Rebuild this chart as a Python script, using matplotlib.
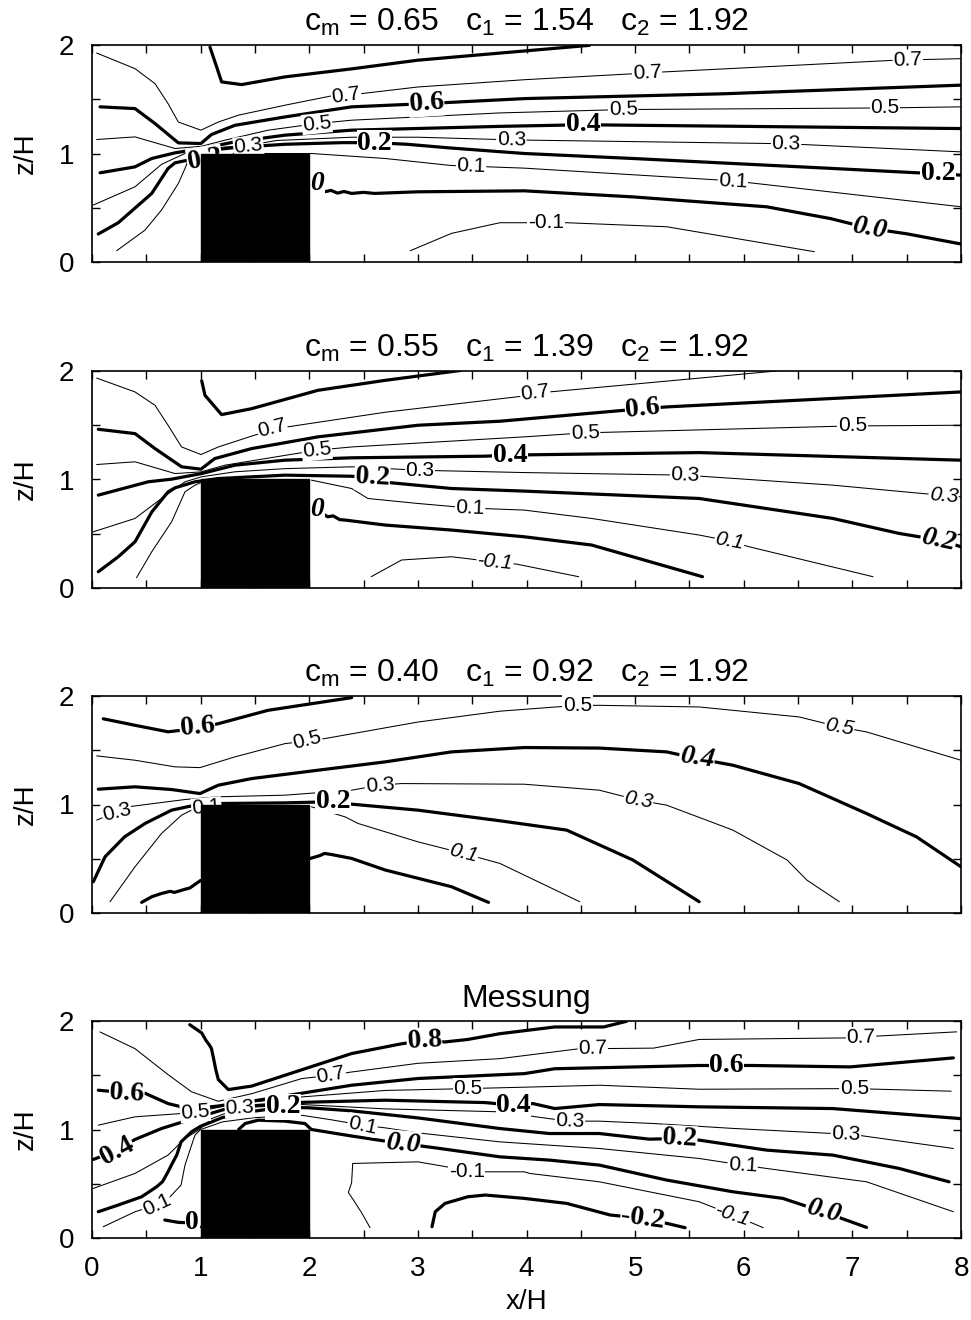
import matplotlib
matplotlib.use("Agg")
import matplotlib.pyplot as plt
from matplotlib.patches import Rectangle

plt.rcParams['font.family'] = ['Liberation Sans', 'DejaVu Sans']
plt.rcParams['mathtext.fontset'] = 'custom'
plt.rcParams['mathtext.rm'] = 'Liberation Sans'
plt.rcParams['mathtext.it'] = 'Liberation Sans'

# ---------------- data ----------------
TITLES = [r"c$_\mathrm{m}$ = 0.65   c$_\mathrm{1}$ = 1.54   c$_\mathrm{2}$ = 1.92",
          r"c$_\mathrm{m}$ = 0.55   c$_\mathrm{1}$ = 1.39   c$_\mathrm{2}$ = 1.92",
          r"c$_\mathrm{m}$ = 0.40   c$_\mathrm{1}$ = 0.92   c$_\mathrm{2}$ = 1.92",
          "Messung"]

X_TICKS = [0, 1, 2, 3, 4, 5, 6, 7, 8]
Z_TICKS = [0, 1, 2]
BUILDING_X = [1.0, 2.0]
BUILDING_Z = [0.0, 1.0]

# contour lines: (level, x/H, z/H)
P1_LINES = [
    (0.8, [1.086, 1.147, 1.193, 1.377, 1.776, 2.39, 3.0, 3.98, 4.58],
          [1.98, 1.80, 1.66, 1.635, 1.706, 1.78, 1.86, 1.945, 1.997]),
    (0.7, [0.043, 0.396, 0.58, 0.70, 0.795, 1.003, 1.163, 1.347, 1.776, 2.205, 2.48, 3.0, 3.98, 5.0, 5.23, 7.4, 8.0],
          [1.926, 1.782, 1.644, 1.46, 1.29, 1.215, 1.29, 1.353, 1.445, 1.531, 1.552, 1.613, 1.68, 1.736, 1.75, 1.86, 1.874]),
    (0.6, [0.074, 0.396, 0.58, 0.795, 1.003, 1.10, 1.316, 1.776, 2.39, 3.08, 3.98, 5.8, 8.0],
          [1.43, 1.414, 1.276, 1.098, 1.092, 1.175, 1.26, 1.337, 1.43, 1.46, 1.506, 1.55, 1.63]),
    (0.5, [0.043, 0.396, 0.764, 1.009, 1.224, 1.623, 2.07, 2.39, 3.755, 4.89, 7.3, 8.0],
          [1.129, 1.153, 1.046, 1.067, 1.123, 1.215, 1.276, 1.307, 1.374, 1.405, 1.42, 1.43]),
    (0.4, [0.074, 0.396, 0.55, 0.764, 1.009, 1.316, 1.776, 2.39, 3.755, 4.52, 8.0],
          [0.822, 0.877, 0.954, 1.006, 1.046, 1.107, 1.169, 1.215, 1.25, 1.265, 1.23]),
    (0.3, [0.012, 0.396, 0.64, 0.856, 1.009, 1.224, 1.44, 1.7, 2.39, 3.0, 3.88, 6.39, 8.0],
          [0.525, 0.693, 0.90, 1.0, 1.03, 1.06, 1.075, 1.12, 1.15, 1.15, 1.125, 1.09, 1.015]),
    (0.2, [0.058, 0.242, 0.55, 0.70, 0.764, 0.856, 0.95],
          [0.258, 0.362, 0.632, 0.862, 0.914, 0.933, 0.95]),
    (0.2, [1.0, 1.316, 1.776, 2.3, 2.6, 2.9, 3.31, 3.98, 4.98, 6.82, 7.6, 7.8, 8.0],
          [1.02, 1.055, 1.085, 1.1, 1.1, 1.085, 1.05, 1.0, 0.954, 0.862, 0.822, 0.816, 0.80]),
    (0.1, [0.227, 0.488, 0.64, 0.795, 0.856, 0.886, 0.95],
          [0.104, 0.294, 0.479, 0.724, 0.862, 0.939, 0.99]),
    (0.1, [1.3, 2.02, 2.7, 3.3, 3.49, 3.98, 5.9, 8.0],
          [1.0, 1.0, 0.954, 0.89, 0.883, 0.865, 0.748, 0.509]),
    (0.0, [2.07, 2.14, 2.2, 2.26, 2.32, 2.39, 2.5, 2.6, 3.0, 3.98, 4.98, 6.21, 6.8, 7.16, 7.5, 8.0],
          [0.74, 0.647, 0.66, 0.635, 0.65, 0.632, 0.642, 0.632, 0.647, 0.656, 0.60, 0.509, 0.40, 0.31, 0.26, 0.166]),
    (-0.1, [2.93, 3.31, 3.755, 4.18, 4.37, 5.29, 6.65],
           [0.104, 0.264, 0.362, 0.362, 0.362, 0.325, 0.095]),
]
P1_LABELS = [
    ("0.7", 2.34, 1.537, 8, "n"), ("0.7", 5.11, 1.742, 3, "n"), ("0.7", 7.51, 1.865, 2, "n"),
    ("0.6", 3.08, 1.46, 4, "b"), ("0.5", 2.07, 1.276, 6, "n"), ("0.5", 4.89, 1.405, 1, "n"),
    ("0.5", 7.3, 1.42, 0, "n"), ("0.4", 4.52, 1.265, 0, "b"), ("0.3", 1.44, 1.067, 6, "n"),
    ("0.3", 3.86, 1.125, -1, "n"), ("0.3", 6.39, 1.09, -1, "n"), ("0.2", 2.60, 1.095, 0, "b"),
    ("0.2", 7.79, 0.816, 0, "b"), ("0.1", 3.49, 0.883, -2, "n"), ("0.1", 5.9, 0.748, -3, "n"),
    ("0.0", 7.16, 0.31, -10, "bi"), ("-0.1", 4.18, 0.362, 0, "n"),
    ("0.2", 0.88, 0.92, 10, "bL"), ("0.0", 2.14, 0.72, 0, "biR"),
]

P2_LINES = [
    (0.8, [1.01, 1.04, 1.193, 1.47, 2.08, 2.70, 3.40],
          [1.91, 1.776, 1.598, 1.653, 1.822, 1.914, 2.006]),
    (0.7, [0.043, 0.396, 0.58, 0.70, 0.825, 1.003, 1.163, 1.47, 1.70, 1.90, 2.70, 3.98, 4.06, 4.21, 6.30],
          [1.935, 1.807, 1.684, 1.50, 1.30, 1.23, 1.30, 1.40, 1.47, 1.50, 1.62, 1.77, 1.79, 1.807, 2.0]),
    (0.6, [0.058, 0.396, 0.58, 0.825, 1.003, 1.13, 1.47, 2.08, 3.0, 3.755, 5.07, 5.29, 8.0],
          [1.463, 1.423, 1.285, 1.117, 1.095, 1.193, 1.285, 1.393, 1.50, 1.537, 1.653, 1.669, 1.807]),
    (0.5, [0.043, 0.396, 0.764, 1.003, 1.224, 2.07, 2.39, 3.98, 4.54, 7.0, 8.0],
          [1.138, 1.163, 1.055, 1.07, 1.132, 1.27, 1.30, 1.393, 1.43, 1.494, 1.50]),
    (0.4, [0.058, 0.518, 0.733, 1.009, 1.316, 1.776, 2.39, 3.62, 3.85, 4.06, 5.59, 8.0],
          [0.856, 0.979, 1.003, 1.055, 1.132, 1.178, 1.20, 1.215, 1.225, 1.228, 1.248, 1.178]),
    (0.3, [0.012, 0.396, 0.64, 0.856, 1.009, 1.316, 1.776, 2.39, 3.02, 3.98, 5.46, 6.82, 7.6, 8.0],
          [0.518, 0.641, 0.825, 0.979, 1.025, 1.071, 1.10, 1.117, 1.085, 1.064, 1.04, 0.948, 0.875, 0.84]),
    (0.2, [0.058, 0.242, 0.396, 0.55, 0.70, 0.764, 0.948, 1.163, 1.776, 2.39, 2.58, 2.73, 3.31, 3.98, 5.59, 6.82, 7.43, 7.81, 8.0],
          [0.15, 0.288, 0.426, 0.70, 0.886, 0.923, 0.979, 1.009, 1.04, 1.03, 1.015, 0.972, 0.917, 0.893, 0.825, 0.641, 0.503, 0.44, 0.38]),
    (0.1, [0.41, 0.55, 0.733, 0.856, 0.948, 1.0],
          [0.095, 0.334, 0.61, 0.886, 0.948, 0.97]),
    (0.1, [2.02, 2.39, 2.54, 3.0, 3.48, 3.98, 4.60, 5.59, 5.87, 6.05, 7.19],
          [0.994, 0.917, 0.825, 0.779, 0.737, 0.718, 0.641, 0.488, 0.433, 0.38, 0.104]),
    (0.0, [2.1, 2.17, 2.22, 2.28, 2.33, 2.70, 3.31, 3.98, 4.60, 5.62],
          [0.70, 0.656, 0.665, 0.63, 0.626, 0.58, 0.534, 0.472, 0.396, 0.104]),
    (-0.1, [2.57, 2.85, 3.31, 3.71, 3.91, 4.48],
           [0.104, 0.258, 0.288, 0.24, 0.22, 0.104]),
]
P2_LABELS = [
    ("0.7", 1.66, 1.47, 14, "n"), ("0.7", 4.08, 1.795, 7, "n"), ("0.6", 5.07, 1.655, 6, "b"),
    ("0.5", 2.07, 1.27, 6, "n"), ("0.5", 4.54, 1.43, 2, "n"), ("0.5", 7.0, 1.494, 0, "n"),
    ("0.4", 3.85, 1.225, 0, "b"), ("0.3", 3.02, 1.085, 0, "n"), ("0.3", 5.46, 1.04, -2, "n"),
    ("0.3", 7.84, 0.85, -5, "ni"), ("0.2", 2.58, 1.015, -3, "b"), ("0.2", 7.79, 0.44, -12, "bi"),
    ("0.1", 3.48, 0.737, -2, "n"), ("0.1", 5.87, 0.433, -10, "ni"), ("-0.1", 3.71, 0.24, -5, "ni"),
    ("0.0", 2.14, 0.72, 0, "biR"),
]

P3_LINES = [
    (0.6, [0.104, 0.396, 0.70, 0.96, 1.163, 1.62, 2.39],
          [1.79, 1.73, 1.67, 1.70, 1.745, 1.868, 1.985]),
    (0.5, [0.043, 0.396, 0.764, 0.994, 1.316, 1.776, 1.98, 2.14, 3.0, 3.755, 4.47, 4.67, 5.59, 6.51, 6.88, 7.13, 8.0],
          [1.448, 1.408, 1.347, 1.34, 1.439, 1.561, 1.586, 1.607, 1.76, 1.86, 1.914, 1.914, 1.899, 1.807, 1.715, 1.669, 1.408]),
    (0.4, [0.058, 0.396, 0.733, 0.994, 1.163, 1.47, 2.08, 2.70, 3.31, 3.98, 4.67, 5.29, 5.57, 5.90, 6.51, 7.13, 7.59, 8.0],
          [1.141, 1.163, 1.138, 1.101, 1.178, 1.239, 1.316, 1.393, 1.485, 1.525, 1.52, 1.485, 1.423, 1.362, 1.193, 0.917, 0.702, 0.426]),
    (0.3, [0.043, 0.227, 0.334, 0.856, 1.163, 1.776, 2.39, 2.65, 2.85, 3.98, 4.67, 5.03, 5.29, 5.90, 6.40, 6.58, 6.88],
          [0.856, 0.93, 0.979, 1.046, 1.071, 1.086, 1.132, 1.178, 1.193, 1.187, 1.132, 1.04, 0.994, 0.764, 0.488, 0.304, 0.104]),
    (0.2, [0.012, 0.12, 0.30, 0.488, 0.733, 0.948, 1.163, 1.776, 2.19, 2.39, 3.0, 3.755, 4.37, 4.98, 5.59],
          [0.288, 0.518, 0.702, 0.825, 0.948, 0.994, 1.009, 1.015, 1.025, 1.003, 0.948, 0.85, 0.764, 0.488, 0.104]),
    (0.1, [0.166, 0.396, 0.64, 0.825, 0.92, 1.0],
          [0.104, 0.426, 0.733, 0.902, 0.95, 0.97]),
    (0.1, [2.02, 2.33, 2.45, 3.0, 3.42, 3.755, 4.49],
          [0.979, 0.886, 0.825, 0.656, 0.549, 0.457, 0.104]),
    (0.0, [0.457, 0.55, 0.64, 0.72, 0.76, 0.86, 0.9, 1.0],
          [0.098, 0.15, 0.18, 0.2, 0.19, 0.22, 0.23, 0.30]),
    (0.0, [2.0, 2.1, 2.14, 2.2, 2.39, 2.70, 3.31, 3.65],
          [0.50, 0.53, 0.549, 0.54, 0.503, 0.396, 0.242, 0.098]),
]
P3_LABELS = [
    ("0.6", 0.97, 1.715, 5, "b"), ("0.5", 1.98, 1.59, 14, "n"), ("0.5", 4.47, 1.914, 0, "n"),
    ("0.5", 6.88, 1.715, -10, "ni"), ("0.4", 5.57, 1.43, -8, "bi"), ("0.3", 0.227, 0.93, 14, "n"),
    ("0.3", 2.65, 1.178, 4, "n"), ("0.3", 5.03, 1.04, -10, "ni"), ("0.2", 2.22, 1.03, 0, "b"),
    ("0.1", 3.42, 0.55, -14, "ni"), ("0.1", 0.92, 0.96, 5, "nL"),
]

P4_LINES = [
    (0.8, [0.90, 1.01, 1.05, 1.08, 1.10, 1.12, 1.14, 1.163, 1.255, 1.47, 1.93, 2.39, 2.85, 3.06, 3.25, 3.46, 3.755, 4.26, 4.71, 4.92],
          [1.966, 1.89, 1.82, 1.78, 1.745, 1.65, 1.55, 1.46, 1.368, 1.40, 1.55, 1.70, 1.79, 1.82, 1.807, 1.83, 1.883, 1.945, 1.945, 1.997]),
    (0.7, [0.074, 0.396, 0.70, 0.917, 1.163, 1.47, 1.93, 2.2, 2.39, 3.0, 3.755, 4.49, 4.61, 5.17, 5.59, 6.94, 7.08, 7.96],
          [1.899, 1.745, 1.506, 1.347, 1.26, 1.33, 1.469, 1.50, 1.53, 1.61, 1.653, 1.745, 1.745, 1.75, 1.83, 1.844, 1.853, 1.90]),
    (0.6, [0.058, 0.30, 0.488, 0.70, 0.9, 1.15, 1.53, 2.39, 3.0, 3.98, 4.26, 5.59, 5.84, 6.08, 6.98, 7.93],
          [1.362, 1.34, 1.334, 1.239, 1.19, 1.215, 1.27, 1.408, 1.47, 1.515, 1.56, 1.59, 1.59, 1.59, 1.577, 1.66]),
    (0.5, [0.058, 0.396, 0.82, 0.95, 1.1, 1.3, 1.93, 2.70, 3.46, 3.98, 4.67, 5.59, 7.02, 7.91],
          [1.04, 1.117, 1.147, 1.163, 1.19, 1.235, 1.30, 1.36, 1.377, 1.39, 1.408, 1.371, 1.377, 1.353]),
    (0.4, [0.012, 0.21, 0.396, 0.64, 0.856, 1.0, 1.2, 1.35, 1.93, 2.70, 3.62, 3.88, 4.06, 4.26, 4.67, 5.59, 6.82, 8.0],
          [0.724, 0.80, 0.908, 1.009, 1.077, 1.12, 1.18, 1.21, 1.25, 1.27, 1.248, 1.224, 1.239, 1.193, 1.23, 1.209, 1.193, 1.10]),
    (0.3, [0.012, 0.396, 0.70, 0.856, 0.98, 1.1, 1.36, 1.94, 2.70, 3.755, 4.21, 4.4, 4.67, 5.17, 5.9, 6.82, 6.94, 7.93],
          [0.457, 0.595, 0.764, 0.917, 0.994, 1.1, 1.2, 1.23, 1.19, 1.163, 1.10, 1.077, 1.077, 1.055, 1.01, 0.963, 0.963, 0.825]),
    (0.2, [0.058, 0.242, 0.457, 0.595, 0.65, 0.70, 0.74, 0.78, 0.82, 0.917, 1.0, 1.2, 1.5, 1.76, 2.0, 2.39, 3.0, 3.755, 4.21, 4.67, 5.13, 5.41, 5.59, 6.21, 6.82, 7.43, 7.89],
          [0.242, 0.304, 0.38, 0.472, 0.52, 0.61, 0.69, 0.764, 0.886, 0.979, 1.03, 1.11, 1.17, 1.205, 1.20, 1.172, 1.107, 1.009, 0.963, 0.963, 0.911, 0.917, 0.902, 0.81, 0.764, 0.641, 0.518]),
    (0.1, [0.104, 0.396, 0.595, 0.70, 0.82, 0.856, 0.917, 0.948, 1.0, 1.2, 1.5, 1.94, 2.2, 2.49, 2.70, 3.0, 3.755, 4.67, 5.59, 5.99, 6.21, 7.13, 7.93],
          [0.104, 0.242, 0.304, 0.36, 0.488, 0.672, 0.856, 0.948, 1.0, 1.07, 1.11, 1.13, 1.09, 1.04, 1.015, 0.969, 0.886, 0.825, 0.733, 0.672, 0.641, 0.518, 0.242]),
    (0.0, [1.35, 1.41, 1.53, 1.776, 1.96, 2.02, 2.39, 2.70, 2.86, 3.16, 3.755, 4.21, 4.67, 5.29, 5.90, 6.36, 6.73, 7.13],
          [1.0, 1.055, 1.086, 1.077, 1.055, 1.0, 0.94, 0.893, 0.87, 0.831, 0.748, 0.718, 0.672, 0.534, 0.426, 0.365, 0.242, 0.098]),
    (0.0, [0.67, 0.795, 0.9],
          [0.166, 0.144, 0.14]),
    (-0.1, [2.56, 2.48, 2.42, 2.36, 2.39, 2.40, 3.0, 3.3, 3.45, 3.98, 4.03, 4.67, 5.59, 5.90, 6.18],
           [0.095, 0.236, 0.33, 0.42, 0.51, 0.687, 0.702, 0.65, 0.61, 0.61, 0.595, 0.518, 0.334, 0.212, 0.095]),
    (-0.2, [3.13, 3.16, 3.25, 3.46, 3.62, 3.98, 4.37, 4.77, 5.07, 5.29, 5.46],
           [0.104, 0.242, 0.319, 0.38, 0.396, 0.365, 0.319, 0.212, 0.181, 0.135, 0.095]),
]
P4_LABELS = [
    ("0.8", 3.06, 1.82, 3, "b"), ("0.7", 2.2, 1.50, 10, "n"), ("0.7", 4.61, 1.745, 1, "n"),
    ("0.7", 7.08, 1.853, 1, "n"), ("0.6", 0.32, 1.335, -3, "b"), ("0.6", 5.84, 1.59, 0, "b"),
    ("0.5", 0.95, 1.16, 5, "n"), ("0.5", 3.46, 1.377, 0, "n"), ("0.5", 7.02, 1.377, 0, "n"),
    ("0.4", 0.23, 0.80, 28, "b"), ("0.4", 3.88, 1.224, 0, "b"), ("0.3", 1.36, 1.2, 3, "n"),
    ("0.3", 4.4, 1.077, -2, "n"), ("0.3", 6.94, 0.963, -2, "n"), ("0.2", 1.76, 1.21, 0, "b"),
    ("0.2", 5.41, 0.917, -3, "b"), ("0.1", 0.595, 0.304, 25, "n"), ("0.1", 2.49, 1.04, -12, "n"),
    ("0.1", 5.99, 0.672, -3, "n"), ("0.0", 2.86, 0.87, -5, "bi"), ("0.0", 6.73, 0.25, -15, "bi"),
    ("-0.1", 3.45, 0.61, 0, "n"), ("-0.1", 5.90, 0.212, -18, "ni"), ("-0.2", 5.07, 0.18, -8, "b"),
    ("0.0", 0.86, 0.14, 0, "bL"),
]

PANELS = [(P1_LINES, P1_LABELS), (P2_LINES, P2_LABELS), (P3_LINES, P3_LABELS), (P4_LINES, P4_LABELS)]

# ---------------- figure ----------------
W, H = 971, 1320
fig = plt.figure(figsize=(W / 100, H / 100), dpi=100)

ax_left, ax_right = 92, 961
bottoms = [262, 588, 913, 1238]
ax_h = 217

def is_thick(level):
    return int(round(level * 10)) % 2 == 0

for i, (lines, labels) in enumerate(PANELS):
    b = bottoms[i]
    ax = fig.add_axes([ax_left / W, 1 - b / H, (ax_right - ax_left) / W, ax_h / H])
    ax.set_xlim(0, 8)
    ax.set_ylim(0, 2)
    for lev, xs, zs in lines:
        ax.plot(xs, zs, color='black', lw=2.3 if is_thick(lev) else 0.75,
                solid_joinstyle='round', solid_capstyle='round', zorder=2)
    for txt, x, z, rot, sty in labels:
        ha = 'center'
        if sty.endswith('L'):
            ha = 'left'; sty = sty[:-1]
        elif sty.endswith('R'):
            ha = 'right'; sty = sty[:-1]
        if sty.startswith('b'):
            kw = dict(family=['Liberation Serif', 'DejaVu Serif'], fontweight='bold',
                      fontsize=20, style='italic' if sty == 'bi' else 'normal')
        else:
            kw = dict(family=['Liberation Sans', 'DejaVu Sans'], fontsize=15,
                      style='italic' if sty == 'ni' else 'normal')
        ax.text(x, z, txt, ha=ha, va='center', rotation=rot, rotation_mode='anchor',
                bbox=dict(fc='white', ec='none', pad=0.4), zorder=3, **kw)
    ax.add_patch(Rectangle((BUILDING_X[0], BUILDING_Z[0]), BUILDING_X[1] - BUILDING_X[0],
                           BUILDING_Z[1] - BUILDING_Z[0], fc='black', ec='black', zorder=4))
    xt = [k * 0.5 for k in range(17)]
    zt = [k * 0.5 for k in range(5)]
    ax.set_xticks(xt)
    ax.set_yticks(zt)
    ax.set_yticklabels([str(int(v)) if v in Z_TICKS else '' for v in zt])
    if i == 3:
        ax.set_xticklabels([str(int(v)) if v in X_TICKS else '' for v in xt])
        ax.set_xlabel('x/H', fontsize=20, labelpad=5)
    else:
        ax.set_xticklabels([])
    ax.tick_params(direction='in', length=6, width=1, top=True, right=True,
                   labelsize=20, pad=13)
    ax.set_ylabel('z/H', fontsize=20, labelpad=14)
    for s in ax.spines.values():
        s.set_linewidth(1.2)
    ax.set_title(TITLES[i], fontsize=23, pad=10)

fig.savefig('out.png', dpi=100)
